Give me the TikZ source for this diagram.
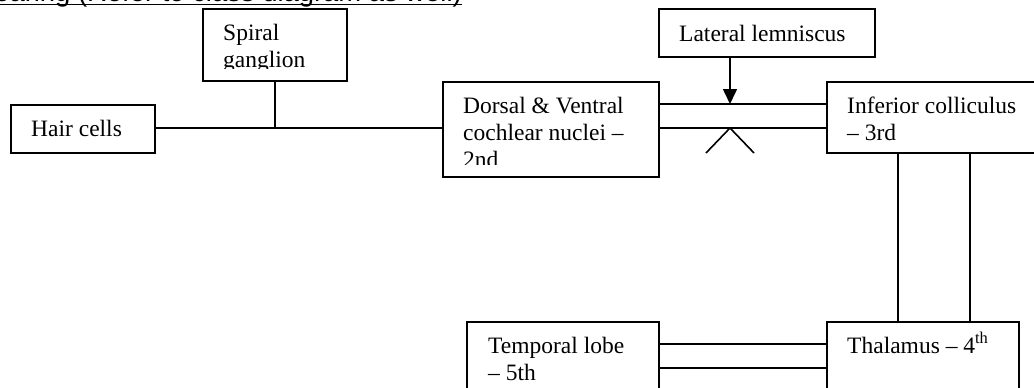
\documentclass[tikz,border=0pt]{standalone}
\usepackage{fontspec}
\setmainfont{Liberation Serif}
\newfontfamily\titlefont{Liberation Sans}
\usetikzlibrary{arrows.meta}
\tikzset{
  box/.style={draw, line width=1.6pt, rectangle, inner sep=0pt, anchor=north west},
  lbl/.style={anchor=base west, inner sep=0pt, font=\fontsize{23.5}{27}\selectfont},
  conn/.style={line width=1.6pt},
  arr/.style={line width=1.6pt, -{Triangle[length=15pt,width=14pt]}},
  ttl/.style={anchor=base east, inner sep=0pt, font=\titlefont\fontsize{27.4}{30}\selectfont},
}
\newcommand{\lines}[1]{\parbox[t]{230pt}{\raggedright #1}}
\begin{document}
\begin{tikzpicture}[x=1pt,y=-1pt]
\useasboundingbox (0,0) rectangle (1034,388);
\clip (0,0) rectangle (1034,388);

% title (cut off at the top)
\node[ttl] (title) at (462,1.6) {Hearing (Refer to class diagram as well)};
\draw[line width=1.4pt] ([yshift=-2.6pt]title.base west) -- ([yshift=-2.6pt]title.base east);

% boxes
\node[box, minimum width=144pt, minimum height=48pt] (hc) at (10,104) {};
\node[box, minimum width=144pt, minimum height=72pt] (sg) at (202,8) {};
\node[box, minimum width=216pt, minimum height=95pt] (dv) at (442,81) {};
\node[box, minimum width=216pt, minimum height=48pt] (ll) at (658,8) {};
\node[box, minimum width=214pt, minimum height=71pt] (ic) at (826,81) {};
\node[box, minimum width=192pt, minimum height=90pt] (tl) at (466,321) {};
\node[box, minimum width=192pt, minimum height=90pt] (th) at (826,321) {};

% labels
\node[lbl] (hc-t) at (31,136) {\lines{Hair cells}};
\begin{scope}
  \clip (202,8) rectangle (346,68);
  \node[lbl] (sg-t) at (223,40) {\lines{Spiral\\ganglion}};
\end{scope}
\begin{scope}
  \clip (442,81) rectangle (658,164);
  \node[lbl] (dv-t) at (463,113) {\lines{Dorsal \& Ventral\\cochlear nuclei –\\2nd}};
\end{scope}
\node[lbl] (ll-t) at (679,41) {\lines{Lateral lemniscus}};
\node[lbl] (ic-t) at (847,113) {\lines{Inferior colliculus\\– 3rd}};
\node[lbl] (tl-t) at (488,353) {\lines{Temporal lobe\\– 5th}};
\node[lbl] (th-t) at (847,353) {\lines{Thalamus – 4\textsuperscript{th}}};

% helper coordinates
\coordinate (ytop) at (0,104);
\coordinate (ybot) at (0,128);
\coordinate (xa) at (730,0);
\coordinate (v1) at (898,0);
\coordinate (v2) at (970,0);
\coordinate (h1) at (0,344);
\coordinate (h2) at (0,368);
\coordinate (chev) at (730,128);

% connectors
\draw[conn] (hc.east |- ybot) -- (dv.west |- ybot);
\draw[conn] (sg.south) -- (sg.south |- ybot);
\draw[conn] (dv.east |- ytop) -- (ic.west |- ytop);
\draw[conn] (dv.east |- ybot) -- (ic.west |- ybot);
\draw[arr] (xa |- ll.south) -- (xa |- ytop);
\draw[conn] (chev) ++(-24,25) -- (chev) -- ++(24,25);
\draw[conn] (v1 |- ic.south) -- (v1 |- th.north);
\draw[conn] (v2 |- ic.south) -- (v2 |- th.north);
\draw[conn] (th.west |- h1) -- (tl.east |- h1);
\draw[conn] (th.west |- h2) -- (tl.east |- h2);
\end{tikzpicture}
\end{document}
